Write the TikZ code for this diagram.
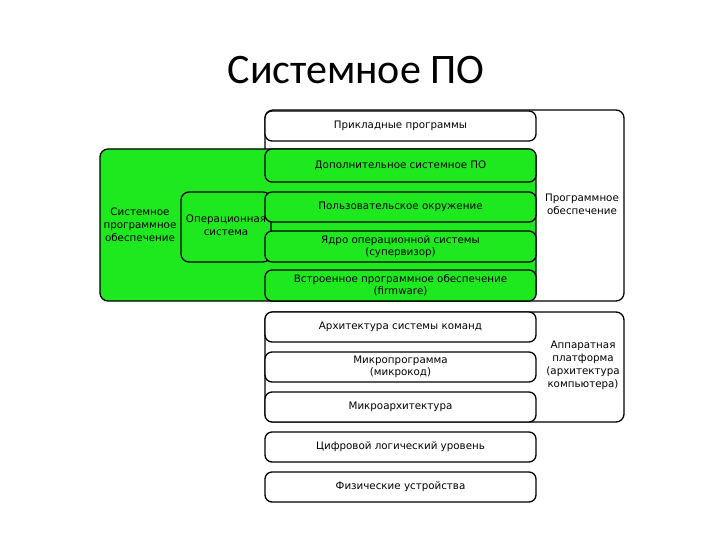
\documentclass[tikz,border=0pt]{standalone}
\usepackage{fontspec}
\setmainfont{DejaVu Sans}
\newfontfamily\titlefont{Carlito}
\definecolor{verde}{RGB}{30,232,30}

\begin{document}
\begin{tikzpicture}[x=1pt,y=-1pt]
\tikzset{capa/.style={draw,rounded corners=7pt,line width=1.3pt,minimum width=271pt,minimum height=30pt,inner sep=1pt,align=center,font=\fontsize{10.3}{12}\selectfont},
  marco/.style={draw,rounded corners=8pt,line width=1.3pt,inner sep=0pt},
  texto/.style={align=center,inner sep=0pt,font=\fontsize{10.3}{13}\selectfont}}
\useasboundingbox (0,0) rectangle (720,540);

% titulo
\node (t) at (356,70) [font=\titlefont\fontsize{42}{42}\selectfont,inner sep=0pt] {Системное ПО};

% marcos grandes
\node (po) at (444.5,205.5) [marco,fill=white,minimum width=359pt,minimum height=191pt] {};
\node (spo) at (318,225) [marco,fill=verde,minimum width=436pt,minimum height=152pt] {};
\node (os) at (226,227) [marco,fill=verde,minimum width=90pt,minimum height=70pt] {};
\node (ap) at (444.5,367) [marco,fill=white,minimum width=359pt,minimum height=110pt] {};

% capas
\node (1) at (400.5,126) [capa,fill=white] {Прикладные программы};
\node (2) at (400.5,165.5) [capa,fill=verde,minimum height=33pt] {Дополнительное системное ПО};
\node (3) at (400.5,207) [capa,fill=verde] {Пользовательское окружение};
\node (4) at (400.5,246.5) [capa,fill=verde,minimum height=31pt] {Ядро операционной системы\\(супервизор)};
\node (5) at (400.5,285.5) [capa,fill=verde,minimum height=31pt] {Встроенное программное обеспечение\\(firmware)};
\node (6) at (400.5,327) [capa,fill=white] {Архитектура системы команд};
\node (7) at (400.5,367) [capa,fill=white] {Микропрограмма\\(микрокод)};
\node (8) at (400.5,407) [capa,fill=white] {Микроархитектура};
\node (9) at (400.5,447) [capa,fill=white] {Цифровой логический уровень};
\node (10) at (400.5,487) [capa,fill=white] {Физические устройства};

% rotulos
\node (l1) at (140,225) [texto] {Системное\\программное\\обеспечение};
\node (l2) at (226,225.5) [texto] {Операционная\\система};
\node (l3) at (582,204) [texto] {Программное\\обеспечение};
\node (l4) at (583,365) [texto] {Аппаратная\\платформа\\(архитектура\\компьютера)};

\end{tikzpicture}
\end{document}
